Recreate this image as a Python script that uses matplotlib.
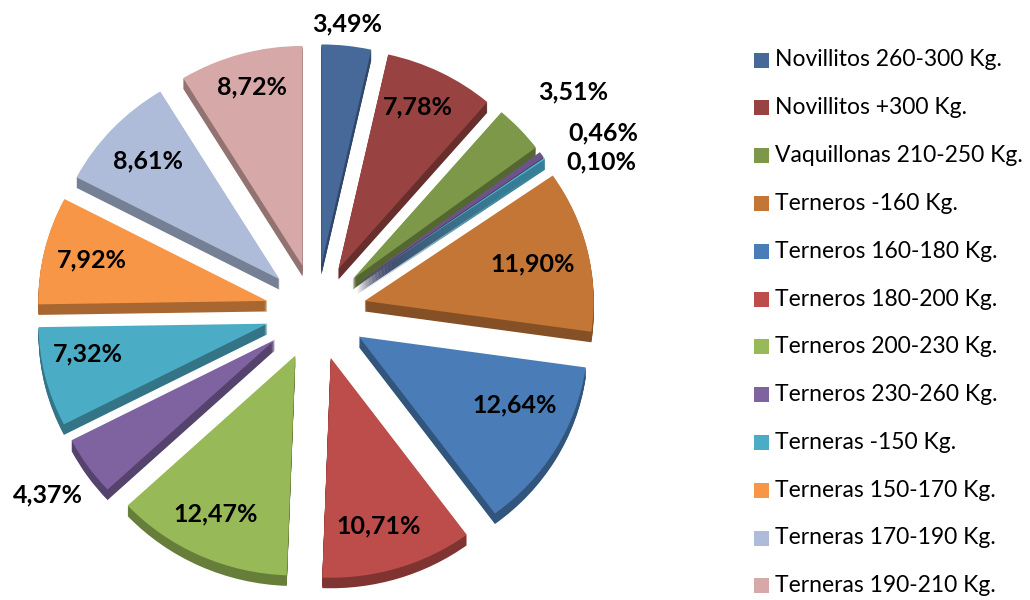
import matplotlib
matplotlib.use("Agg")
import matplotlib.pyplot as plt
import matplotlib.colors as mc
from matplotlib.patches import Rectangle

# share of each category, clockwise from the top
values = [3.49, 7.78, 3.51, 0.46, 0.10, 11.90, 12.64, 10.71, 12.47, 4.37, 7.32, 7.92, 8.61, 8.72]
value_labels = ["3,49%", "7,78%", "3,51%", "0,46%", "0,10%", "11,90%", "12,64%", "10,71%",
                "12,47%", "4,37%", "7,32%", "7,92%", "8,61%", "8,72%"]
colors = ["#46699A", "#984341", "#7D9848", "#6C5489", "#4FBDDF", "#C47636", "#4A7DB8", "#BC4D4A",
          "#97B957", "#7F62A0", "#4BACC6", "#F79646", "#AEBCD9", "#D6A9A8"]
# the legend of the reference leaves out two of the slices
legend_names = ["Novillitos 260-300 Kg.", "Novillitos +300 Kg.", "Vaquillonas 210-250 Kg.", "Terneros -160 Kg.",
                "Terneros 160-180 Kg.", "Terneros 180-200 Kg.", "Terneros 200-230 Kg.", "Terneros 230-260 Kg.",
                "Terneras -150 Kg.", "Terneras 150-170 Kg.", "Terneras 170-190 Kg.", "Terneras 190-210 Kg."]
legend_colors = [colors[i] for i in [0, 1, 2, 5, 6, 7, 8, 9, 10, 11, 12, 13]]

label_pos = [(347, 24), (418, 107), (573, 92), (603, 133), (601, 162), (533, 264), (515, 405), (379, 526),
             (216, 514), (48, 495), (88, 354), (92, 260), (148, 161), (252, 87)]

plt.rcParams["font.family"] = ["Lato", "DejaVu Sans"]

fig = plt.figure(figsize=(10.3, 6.0), dpi=100)

# pie gets its own axes, ylim a bit taller than the figure squashes it like the tilted original
pie_ax = fig.add_axes([0, 0, 1, 1])
pie_ax.axis("off")
cx, cy, r = 316, 300, 229
explode = [50] * len(values)  # pie takes this in data units

# fake 3d side: darker copies stepping down
dark = [mc.to_hex([c * 0.68 for c in mc.to_rgb(k)]) for k in colors]
for i in range(11, 0, -1):
    pie_ax.pie(values, explode=explode, colors=dark, startangle=90, counterclock=False,
               center=(cx, cy - i), radius=r, frame=False)
pie_ax.pie(values, explode=explode, colors=colors, startangle=90, counterclock=False,
           center=(cx, cy), radius=r, frame=False)
pie_ax.set_aspect("auto")
pie_ax.set_xlim(0, 1030)
pie_ax.set_ylim(0, 625)

ax = fig.add_axes([0, 0, 1, 1])
ax.axis("off")
ax.set_xlim(0, 1030)
ax.set_ylim(600, 0)

for lab, (x, y) in zip(value_labels, label_pos):
    ax.text(x, y, lab, fontsize=18, fontweight="bold", ha="center", va="center", color="black")

for i, (name, col) in enumerate(zip(legend_names, legend_colors)):
    y = 60 + i * 47.8
    ax.add_patch(Rectangle((754, y - 7.5), 15, 15, color=col, lw=0))
    ax.text(775, y, name, fontsize=16.5, ha="left", va="center", color="black")

fig.savefig("out.png", dpi=100)
